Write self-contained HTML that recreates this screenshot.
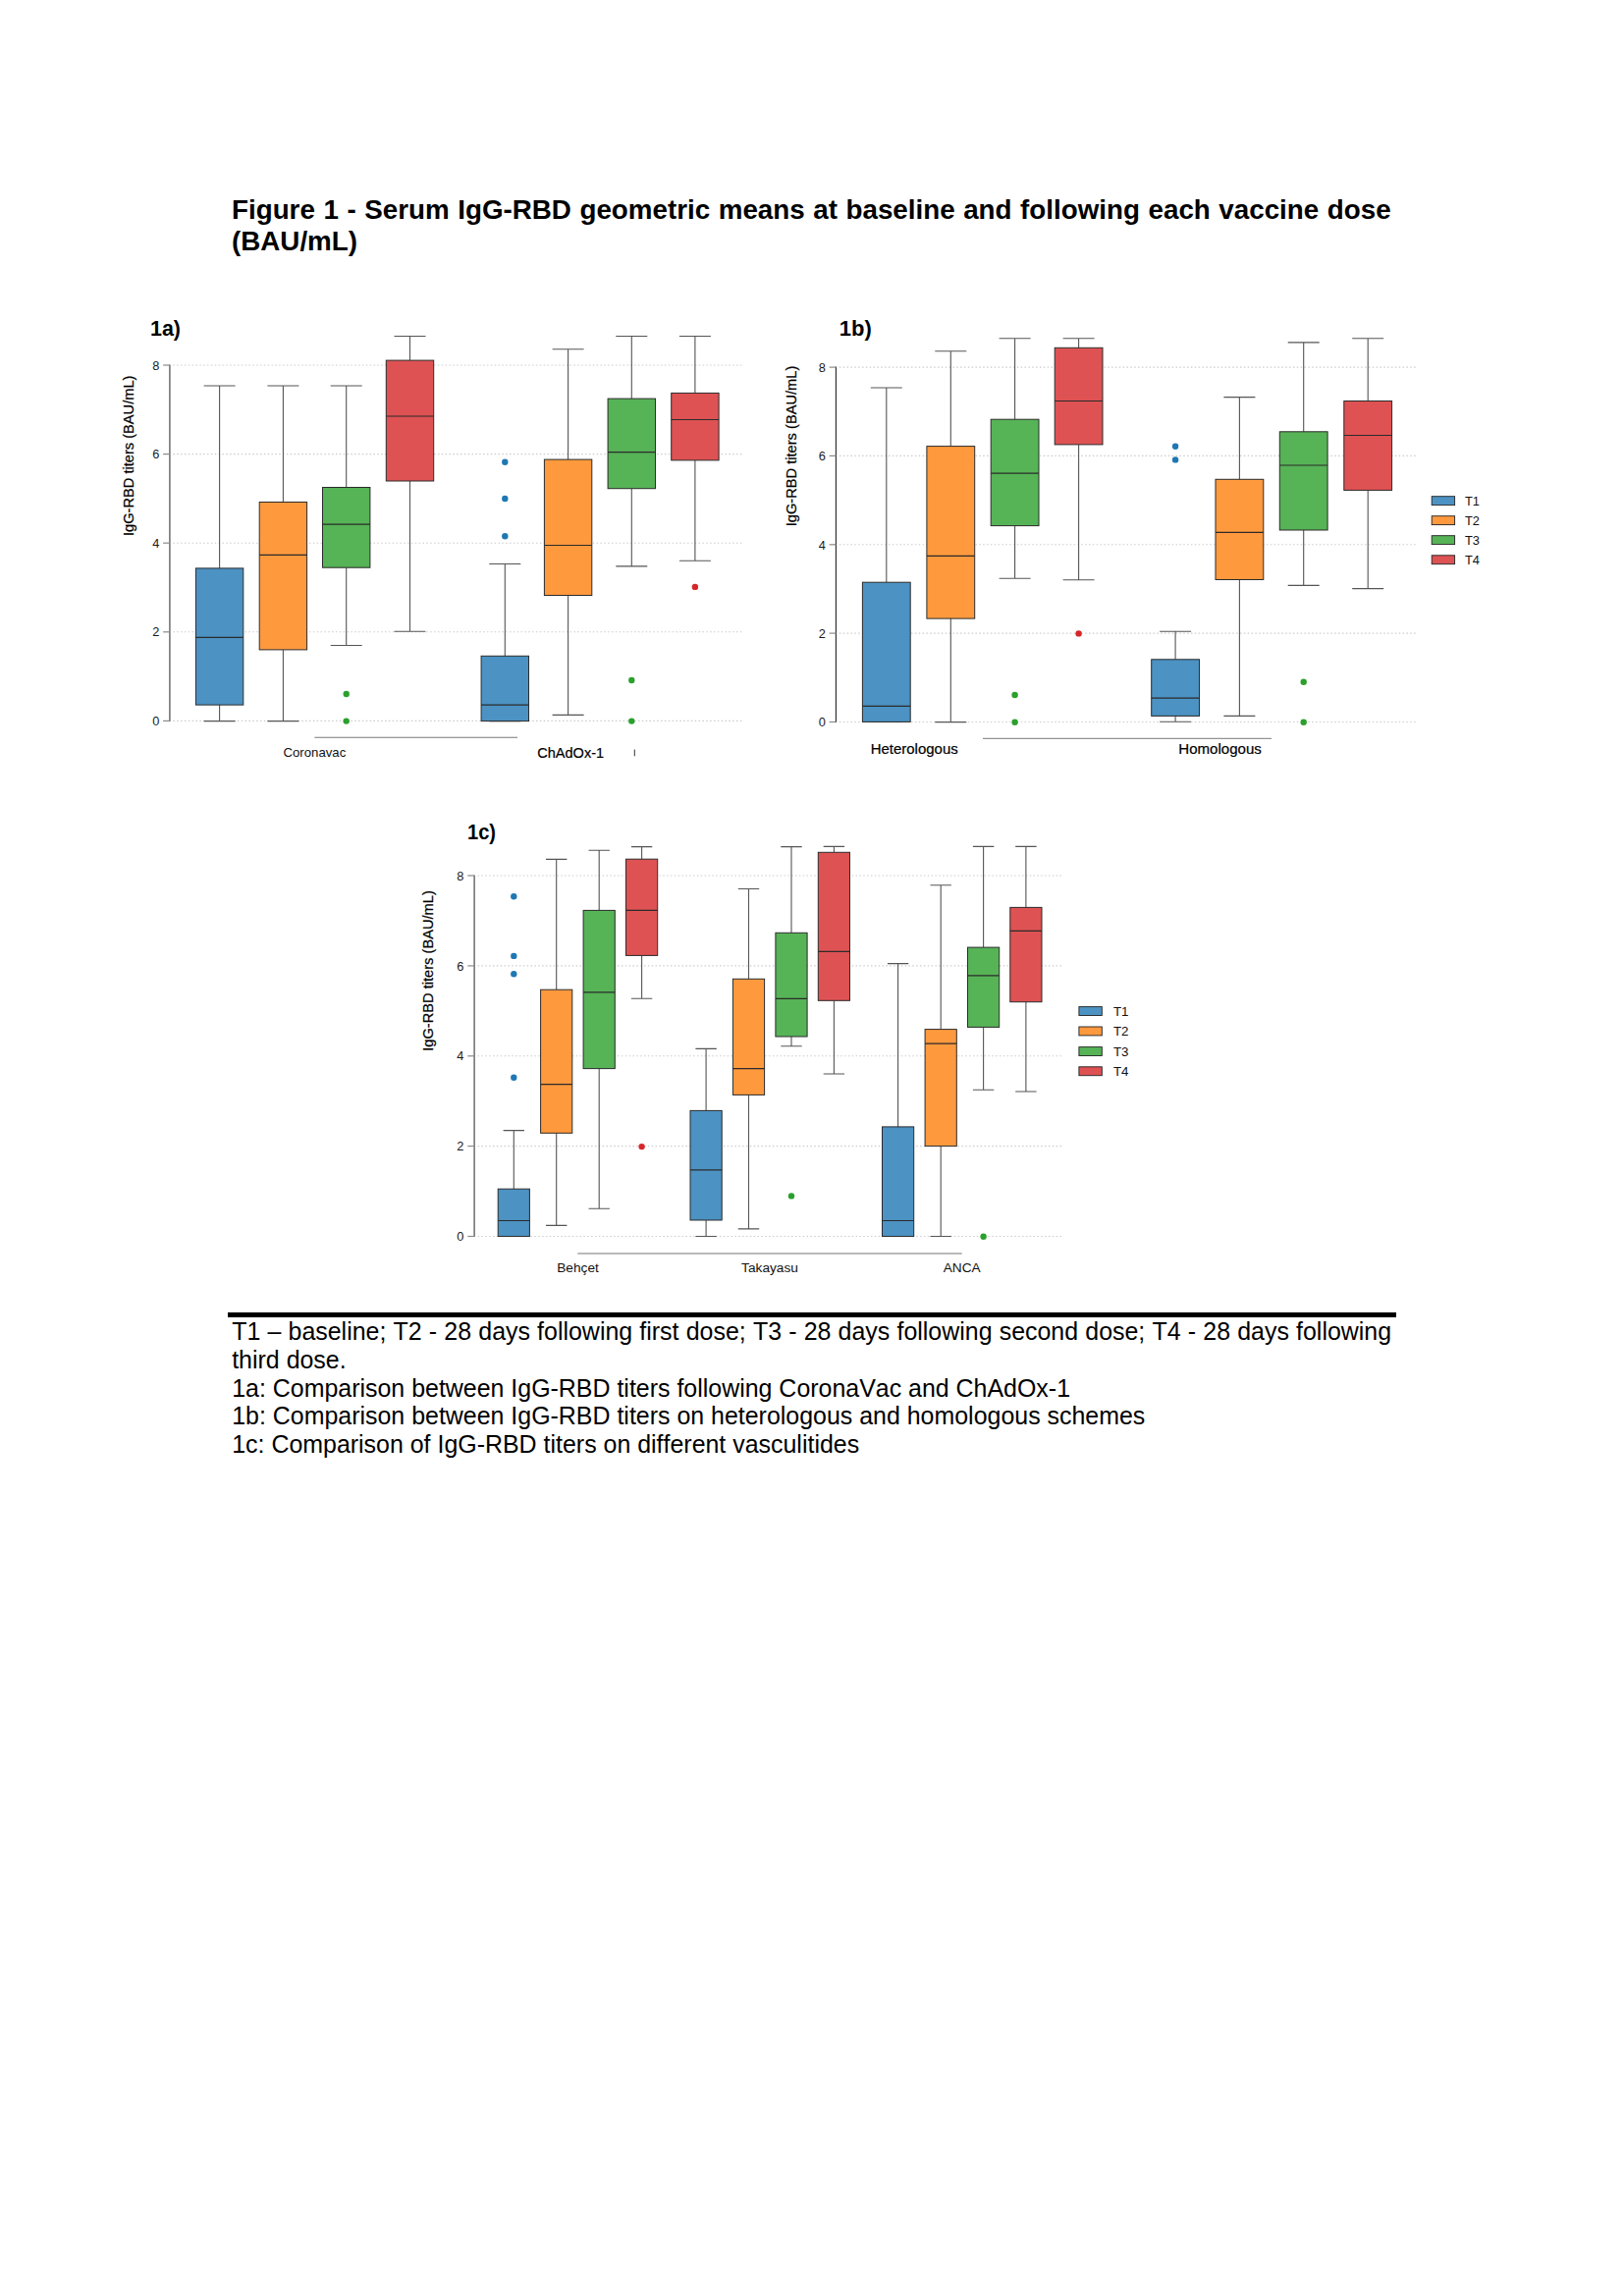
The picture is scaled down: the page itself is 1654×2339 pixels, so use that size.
<!DOCTYPE html>
<html lang="en"><head><meta charset="utf-8"><title>Figure 1</title>
<style>
html,body{margin:0;padding:0;background:#fff;}
body{width:1654px;height:2339px;position:relative;overflow:hidden;font-family:"Liberation Sans",Arial,sans-serif;color:#000;}
.title{position:absolute;left:236px;top:198.4px;width:1300px;font-weight:bold;font-size:27.78px;line-height:31.8px;white-space:nowrap;}
.title span{word-spacing:0.85px;}
.rule{position:absolute;left:232.1px;top:1337.3px;width:1189.6px;height:4.4px;background:#000;}
.cap{position:absolute;left:236.2px;top:1342px;font-kerning:none;font-size:24.95px;line-height:28.76px;white-space:nowrap;}
.cap span{word-spacing:0.26px;}
svg{position:absolute;left:0;top:0;font-family:"Liberation Sans",Arial,sans-serif;}
</style></head><body>
<div class="title"><span>Figure 1 - Serum IgG-RBD geometric means at baseline and following each vaccine dose</span><br>(BAU/mL)</div>
<svg width="1654" height="2339" viewBox="0 0 1654 2339">
<path d="M176.4 372.0H756.2" stroke="#cccccc" stroke-width="1.1" stroke-dasharray="1.5 2.35" fill="none"/>
<path d="M176.4 462.6H756.2" stroke="#cccccc" stroke-width="1.1" stroke-dasharray="1.5 2.35" fill="none"/>
<path d="M176.4 553.2H756.2" stroke="#cccccc" stroke-width="1.1" stroke-dasharray="1.5 2.35" fill="none"/>
<path d="M176.4 643.8H756.2" stroke="#cccccc" stroke-width="1.1" stroke-dasharray="1.5 2.35" fill="none"/>
<path d="M176.4 734.4H756.2" stroke="#cccccc" stroke-width="1.1" stroke-dasharray="1.5 2.35" fill="none"/>
<path d="M172.9 371.4V735.0" stroke="#5c5c5c" stroke-width="1.35"/>
<path d="M166.1 372.0H172.9" stroke="#8a8a8a" stroke-width="1.2"/>
<text x="162.3" y="377" text-anchor="end" font-size="12.8" fill="#1a1a1a">8</text>
<path d="M166.1 462.6H172.9" stroke="#8a8a8a" stroke-width="1.2"/>
<text x="162.3" y="467" text-anchor="end" font-size="12.8" fill="#1a1a1a">6</text>
<path d="M166.1 553.2H172.9" stroke="#8a8a8a" stroke-width="1.2"/>
<text x="162.3" y="558" text-anchor="end" font-size="12.8" fill="#1a1a1a">4</text>
<path d="M166.1 643.8H172.9" stroke="#8a8a8a" stroke-width="1.2"/>
<text x="162.3" y="648" text-anchor="end" font-size="12.8" fill="#1a1a1a">2</text>
<path d="M166.1 734.4H172.9" stroke="#8a8a8a" stroke-width="1.2"/>
<text x="162.3" y="739" text-anchor="end" font-size="12.8" fill="#1a1a1a">0</text>
<text transform="translate(135.7 464.3) rotate(-90)" text-anchor="middle" font-size="14.4" textLength="163.5" lengthAdjust="spacingAndGlyphs" fill="#000" stroke="#000" stroke-width="0.22">IgG-RBD titers (BAU/mL)</text>
<path d="M223.6 393.0V578.9M223.6 718.1V734.6M207.6 393.0H239.6M207.6 734.6H239.6" stroke="#555" stroke-width="1.1" fill="none"/>
<rect x="199.4" y="578.9" width="48.4" height="139.2" fill="#4c92c3" stroke="#2b2b2b" stroke-width="1"/>
<path d="M199.4 649.4H247.8" stroke="#2b2b2b" stroke-width="1.2"/>
<path d="M288.4 393.0V511.5M288.4 661.9V734.6M272.4 393.0H304.4M272.4 734.6H304.4" stroke="#555" stroke-width="1.1" fill="none"/>
<rect x="264.2" y="511.5" width="48.4" height="150.4" fill="#ff993e" stroke="#2b2b2b" stroke-width="1"/>
<path d="M264.2 565.4H312.6" stroke="#2b2b2b" stroke-width="1.2"/>
<path d="M352.7 393.0V496.5M352.7 578.2V657.5M336.7 393.0H368.7M336.7 657.5H368.7" stroke="#555" stroke-width="1.1" fill="none"/>
<rect x="328.5" y="496.5" width="48.4" height="81.7" fill="#56b356" stroke="#2b2b2b" stroke-width="1"/>
<path d="M328.5 534.1H376.9" stroke="#2b2b2b" stroke-width="1.2"/>
<circle cx="352.7" cy="707.0" r="3.2" fill="#2ca02c"/>
<circle cx="352.7" cy="734.6" r="3.2" fill="#2ca02c"/>
<path d="M417.5 342.5V367.1M417.5 490.0V643.2M401.5 342.5H433.5M401.5 643.2H433.5" stroke="#555" stroke-width="1.1" fill="none"/>
<rect x="393.3" y="367.1" width="48.4" height="122.9" fill="#de5253" stroke="#2b2b2b" stroke-width="1"/>
<path d="M393.3 424.0H441.7" stroke="#2b2b2b" stroke-width="1.2"/>
<path d="M514.3 574.5V668.3M514.3 734.6V734.6M498.3 574.5H530.3M498.3 734.6H530.3" stroke="#555" stroke-width="1.1" fill="none"/>
<rect x="490.1" y="668.3" width="48.4" height="66.3" fill="#4c92c3" stroke="#2b2b2b" stroke-width="1"/>
<path d="M490.1 718.1H538.5" stroke="#2b2b2b" stroke-width="1.2"/>
<circle cx="514.3" cy="470.8" r="3.2" fill="#1f77b4"/>
<circle cx="514.3" cy="508.0" r="3.2" fill="#1f77b4"/>
<circle cx="514.3" cy="546.2" r="3.2" fill="#1f77b4"/>
<path d="M578.6 355.8V468.1M578.6 606.5V728.4M562.6 355.8H594.6M562.6 728.4H594.6" stroke="#555" stroke-width="1.1" fill="none"/>
<rect x="554.4" y="468.1" width="48.4" height="138.4" fill="#ff993e" stroke="#2b2b2b" stroke-width="1"/>
<path d="M554.4 555.5H602.8" stroke="#2b2b2b" stroke-width="1.2"/>
<path d="M643.3 342.5V406.1M643.3 497.7V576.9M627.3 342.5H659.3M627.3 576.9H659.3" stroke="#555" stroke-width="1.1" fill="none"/>
<rect x="619.1" y="406.1" width="48.4" height="91.6" fill="#56b356" stroke="#2b2b2b" stroke-width="1"/>
<path d="M619.1 460.7H667.5" stroke="#2b2b2b" stroke-width="1.2"/>
<circle cx="643.3" cy="693.0" r="3.2" fill="#2ca02c"/>
<circle cx="643.3" cy="734.6" r="3.2" fill="#2ca02c"/>
<path d="M707.9 342.5V400.4M707.9 468.9V571.3M691.9 342.5H723.9M691.9 571.3H723.9" stroke="#555" stroke-width="1.1" fill="none"/>
<rect x="683.7" y="400.4" width="48.4" height="68.5" fill="#de5253" stroke="#2b2b2b" stroke-width="1"/>
<path d="M683.7 427.5H732.1" stroke="#2b2b2b" stroke-width="1.2"/>
<circle cx="707.9" cy="597.9" r="3.2" fill="#d62728"/>
<path d="M320.4 751.3H527" stroke="#777" stroke-width="1.1"/>
<text x="320.4" y="770.5" text-anchor="middle" font-size="13.2" fill="#111">Coronavac</text>
<text x="581.2" y="771.6" text-anchor="middle" font-size="14.7" textLength="67.8" lengthAdjust="spacingAndGlyphs" fill="#000" stroke="#000" stroke-width="0.2">ChAdOx-1</text>
<path d="M646.3 763.6V770.3" stroke="#333" stroke-width="1"/>
<text x="153" y="341.5" font-size="22.3" font-weight="bold" textLength="31" lengthAdjust="spacingAndGlyphs" fill="#000">1a)</text>
<path d="M854.9 374.1H1442.5" stroke="#cccccc" stroke-width="1.1" stroke-dasharray="1.5 2.35" fill="none"/>
<path d="M854.9 464.4H1442.5" stroke="#cccccc" stroke-width="1.1" stroke-dasharray="1.5 2.35" fill="none"/>
<path d="M854.9 554.8H1442.5" stroke="#cccccc" stroke-width="1.1" stroke-dasharray="1.5 2.35" fill="none"/>
<path d="M854.9 645.1H1442.5" stroke="#cccccc" stroke-width="1.1" stroke-dasharray="1.5 2.35" fill="none"/>
<path d="M854.9 735.5H1442.5" stroke="#cccccc" stroke-width="1.1" stroke-dasharray="1.5 2.35" fill="none"/>
<path d="M851.4 373.5V736.1" stroke="#222" stroke-width="1.1"/>
<path d="M844.6 374.1H851.4" stroke="#8a8a8a" stroke-width="1.2"/>
<text x="840.8" y="379" text-anchor="end" font-size="12.8" fill="#1a1a1a">8</text>
<path d="M844.6 464.4H851.4" stroke="#8a8a8a" stroke-width="1.2"/>
<text x="840.8" y="469" text-anchor="end" font-size="12.8" fill="#1a1a1a">6</text>
<path d="M844.6 554.8H851.4" stroke="#8a8a8a" stroke-width="1.2"/>
<text x="840.8" y="560" text-anchor="end" font-size="12.8" fill="#1a1a1a">4</text>
<path d="M844.6 645.1H851.4" stroke="#8a8a8a" stroke-width="1.2"/>
<text x="840.8" y="650" text-anchor="end" font-size="12.8" fill="#1a1a1a">2</text>
<path d="M844.6 735.5H851.4" stroke="#8a8a8a" stroke-width="1.2"/>
<text x="840.8" y="740" text-anchor="end" font-size="12.8" fill="#1a1a1a">0</text>
<text transform="translate(811.3 454.5) rotate(-90)" text-anchor="middle" font-size="14.4" textLength="163.5" lengthAdjust="spacingAndGlyphs" fill="#000" stroke="#000" stroke-width="0.22">IgG-RBD titers (BAU/mL)</text>
<path d="M902.8 395.0V593.2M902.8 735.4V735.4M886.8 395.0H918.8M886.8 735.4H918.8" stroke="#555" stroke-width="1.1" fill="none"/>
<rect x="878.4" y="593.2" width="48.8" height="142.2" fill="#4c92c3" stroke="#2b2b2b" stroke-width="1"/>
<path d="M878.4 719.3H927.2" stroke="#2b2b2b" stroke-width="1.2"/>
<path d="M968.3 357.8V454.6M968.3 630.1V735.6M952.3 357.8H984.3M952.3 735.6H984.3" stroke="#555" stroke-width="1.1" fill="none"/>
<rect x="943.9" y="454.6" width="48.8" height="175.5" fill="#ff993e" stroke="#2b2b2b" stroke-width="1"/>
<path d="M943.9 566.4H992.7" stroke="#2b2b2b" stroke-width="1.2"/>
<path d="M1033.6 344.7V427.2M1033.6 535.6V589.3M1017.6 344.7H1049.6M1017.6 589.3H1049.6" stroke="#555" stroke-width="1.1" fill="none"/>
<rect x="1009.2" y="427.2" width="48.8" height="108.4" fill="#56b356" stroke="#2b2b2b" stroke-width="1"/>
<path d="M1009.2 482.2H1058.0" stroke="#2b2b2b" stroke-width="1.2"/>
<circle cx="1033.6" cy="708.0" r="3.2" fill="#2ca02c"/>
<circle cx="1033.6" cy="735.8" r="3.2" fill="#2ca02c"/>
<path d="M1098.6 344.7V354.3M1098.6 452.9V590.7M1082.6 344.7H1114.6M1082.6 590.7H1114.6" stroke="#555" stroke-width="1.1" fill="none"/>
<rect x="1074.2" y="354.3" width="48.8" height="98.6" fill="#de5253" stroke="#2b2b2b" stroke-width="1"/>
<path d="M1074.2 408.5H1123.0" stroke="#2b2b2b" stroke-width="1.2"/>
<circle cx="1098.6" cy="645.4" r="3.2" fill="#d62728"/>
<path d="M1197.1 643.2V671.8M1197.1 729.4V735.3M1181.1 643.2H1213.1M1181.1 735.3H1213.1" stroke="#555" stroke-width="1.1" fill="none"/>
<rect x="1172.7" y="671.8" width="48.8" height="57.6" fill="#4c92c3" stroke="#2b2b2b" stroke-width="1"/>
<path d="M1172.7 711.2H1221.5" stroke="#2b2b2b" stroke-width="1.2"/>
<circle cx="1197.1" cy="454.8" r="3.2" fill="#1f77b4"/>
<circle cx="1197.1" cy="468.4" r="3.2" fill="#1f77b4"/>
<path d="M1262.4 404.6V488.3M1262.4 590.5V729.4M1246.4 404.6H1278.4M1246.4 729.4H1278.4" stroke="#555" stroke-width="1.1" fill="none"/>
<rect x="1238.0" y="488.3" width="48.8" height="102.2" fill="#ff993e" stroke="#2b2b2b" stroke-width="1"/>
<path d="M1238.0 542.4H1286.8" stroke="#2b2b2b" stroke-width="1.2"/>
<path d="M1327.7 348.9V439.8M1327.7 540.0V596.4M1311.7 348.9H1343.7M1311.7 596.4H1343.7" stroke="#555" stroke-width="1.1" fill="none"/>
<rect x="1303.3" y="439.8" width="48.8" height="100.2" fill="#56b356" stroke="#2b2b2b" stroke-width="1"/>
<path d="M1303.3 474.0H1352.1" stroke="#2b2b2b" stroke-width="1.2"/>
<circle cx="1327.7" cy="694.7" r="3.2" fill="#2ca02c"/>
<circle cx="1327.7" cy="735.8" r="3.2" fill="#2ca02c"/>
<path d="M1393.2 344.7V408.5M1393.2 499.4V599.6M1377.2 344.7H1409.2M1377.2 599.6H1409.2" stroke="#555" stroke-width="1.1" fill="none"/>
<rect x="1368.8" y="408.5" width="48.8" height="90.9" fill="#de5253" stroke="#2b2b2b" stroke-width="1"/>
<path d="M1368.8 443.5H1417.6" stroke="#2b2b2b" stroke-width="1.2"/>
<path d="M1001 752.3H1295" stroke="#7a7a7a" stroke-width="1"/>
<text x="931.2" y="768" text-anchor="middle" font-size="14.7" textLength="89" lengthAdjust="spacingAndGlyphs" fill="#000" stroke="#000" stroke-width="0.2">Heterologous</text>
<text x="1242.6" y="768" text-anchor="middle" font-size="14.7" textLength="84.5" lengthAdjust="spacingAndGlyphs" fill="#000" stroke="#000" stroke-width="0.2">Homologous</text>
<text x="854.8" y="341.5" font-size="22.3" font-weight="bold" textLength="33" lengthAdjust="spacingAndGlyphs" fill="#000">1b)</text>
<rect x="1458.2" y="505.7" width="23.4" height="8.9" fill="#4c92c3" stroke="#222" stroke-width="0.9"/>
<text x="1492.0" y="514.7" font-size="12.8" fill="#111">T1</text>
<rect x="1458.2" y="525.7" width="23.4" height="8.9" fill="#ff993e" stroke="#222" stroke-width="0.9"/>
<text x="1492.0" y="534.7" font-size="12.8" fill="#111">T2</text>
<rect x="1458.2" y="545.7" width="23.4" height="8.9" fill="#56b356" stroke="#222" stroke-width="0.9"/>
<text x="1492.0" y="554.7" font-size="12.8" fill="#111">T3</text>
<rect x="1458.2" y="565.8" width="23.4" height="8.9" fill="#de5253" stroke="#222" stroke-width="0.9"/>
<text x="1492.0" y="574.8" font-size="12.8" fill="#111">T4</text>
<path d="M486.6 892.0H1082.6" stroke="#cccccc" stroke-width="1.1" stroke-dasharray="1.5 2.35" fill="none"/>
<path d="M486.6 983.9H1082.6" stroke="#cccccc" stroke-width="1.1" stroke-dasharray="1.5 2.35" fill="none"/>
<path d="M486.6 1075.8H1082.6" stroke="#cccccc" stroke-width="1.1" stroke-dasharray="1.5 2.35" fill="none"/>
<path d="M486.6 1167.6H1082.6" stroke="#cccccc" stroke-width="1.1" stroke-dasharray="1.5 2.35" fill="none"/>
<path d="M486.6 1259.5H1082.6" stroke="#cccccc" stroke-width="1.1" stroke-dasharray="1.5 2.35" fill="none"/>
<path d="M483.1 891.4V1260.1" stroke="#5c5c5c" stroke-width="1.35"/>
<path d="M476.3 892.0H483.1" stroke="#8a8a8a" stroke-width="1.2"/>
<text x="472.3" y="897" text-anchor="end" font-size="12.8" fill="#1a1a1a">8</text>
<path d="M476.3 983.9H483.1" stroke="#8a8a8a" stroke-width="1.2"/>
<text x="472.3" y="989" text-anchor="end" font-size="12.8" fill="#1a1a1a">6</text>
<path d="M476.3 1075.8H483.1" stroke="#8a8a8a" stroke-width="1.2"/>
<text x="472.3" y="1080" text-anchor="end" font-size="12.8" fill="#1a1a1a">4</text>
<path d="M476.3 1167.6H483.1" stroke="#8a8a8a" stroke-width="1.2"/>
<text x="472.3" y="1172" text-anchor="end" font-size="12.8" fill="#1a1a1a">2</text>
<path d="M476.3 1259.5H483.1" stroke="#8a8a8a" stroke-width="1.2"/>
<text x="472.3" y="1264" text-anchor="end" font-size="12.8" fill="#1a1a1a">0</text>
<text transform="translate(440.8 989.0) rotate(-90)" text-anchor="middle" font-size="14.4" textLength="163.5" lengthAdjust="spacingAndGlyphs" fill="#000" stroke="#000" stroke-width="0.22">IgG-RBD titers (BAU/mL)</text>
<path d="M523.3 1151.6V1211.2M523.3 1259.5V1259.5M512.6 1151.6H534.0M512.6 1259.5H534.0" stroke="#555" stroke-width="1.1" fill="none"/>
<rect x="507.2" y="1211.2" width="32.2" height="48.3" fill="#4c92c3" stroke="#2b2b2b" stroke-width="1"/>
<path d="M507.2 1243.5H539.4" stroke="#2b2b2b" stroke-width="1.2"/>
<circle cx="523.3" cy="913.3" r="3.2" fill="#1f77b4"/>
<circle cx="523.3" cy="973.9" r="3.2" fill="#1f77b4"/>
<circle cx="523.3" cy="992.2" r="3.2" fill="#1f77b4"/>
<circle cx="523.3" cy="1097.7" r="3.2" fill="#1f77b4"/>
<path d="M566.7 875.4V1008.2M566.7 1154.3V1248.4M556.0 875.4H577.4M556.0 1248.4H577.4" stroke="#555" stroke-width="1.1" fill="none"/>
<rect x="550.6" y="1008.2" width="32.2" height="146.1" fill="#ff993e" stroke="#2b2b2b" stroke-width="1"/>
<path d="M550.6 1104.6H582.8" stroke="#2b2b2b" stroke-width="1.2"/>
<path d="M610.2 866.3V927.4M610.2 1088.6V1231.2M599.5 866.3H620.9M599.5 1231.2H620.9" stroke="#555" stroke-width="1.1" fill="none"/>
<rect x="594.1" y="927.4" width="32.2" height="161.2" fill="#56b356" stroke="#2b2b2b" stroke-width="1"/>
<path d="M594.1 1010.9H626.3" stroke="#2b2b2b" stroke-width="1.2"/>
<path d="M653.6 862.6V875.2M653.6 973.4V1017.3M642.9 862.6H664.3M642.9 1017.3H664.3" stroke="#555" stroke-width="1.1" fill="none"/>
<rect x="637.5" y="875.2" width="32.2" height="98.2" fill="#de5253" stroke="#2b2b2b" stroke-width="1"/>
<path d="M637.5 927.4H669.7" stroke="#2b2b2b" stroke-width="1.2"/>
<circle cx="653.6" cy="1168.1" r="3.2" fill="#d62728"/>
<path d="M719.1 1068.4V1131.4M719.1 1243.0V1259.5M708.4 1068.4H729.8M708.4 1259.5H729.8" stroke="#555" stroke-width="1.1" fill="none"/>
<rect x="703.0" y="1131.4" width="32.2" height="111.6" fill="#4c92c3" stroke="#2b2b2b" stroke-width="1"/>
<path d="M703.0 1191.8H735.2" stroke="#2b2b2b" stroke-width="1.2"/>
<path d="M762.5 905.5V997.3M762.5 1115.4V1251.9M751.8 905.5H773.2M751.8 1251.9H773.2" stroke="#555" stroke-width="1.1" fill="none"/>
<rect x="746.4" y="997.3" width="32.2" height="118.1" fill="#ff993e" stroke="#2b2b2b" stroke-width="1"/>
<path d="M746.4 1088.6H778.6" stroke="#2b2b2b" stroke-width="1.2"/>
<path d="M806.0 862.6V950.3M806.0 1056.0V1065.8M795.3 862.6H816.7M795.3 1065.8H816.7" stroke="#555" stroke-width="1.1" fill="none"/>
<rect x="789.9" y="950.3" width="32.2" height="105.7" fill="#56b356" stroke="#2b2b2b" stroke-width="1"/>
<path d="M789.9 1017.3H822.1" stroke="#2b2b2b" stroke-width="1.2"/>
<circle cx="806.0" cy="1218.4" r="3.2" fill="#2ca02c"/>
<path d="M849.4 862.4V868.3M849.4 1019.3V1094.0M838.7 862.4H860.1M838.7 1094.0H860.1" stroke="#555" stroke-width="1.1" fill="none"/>
<rect x="833.3" y="868.3" width="32.2" height="151.0" fill="#de5253" stroke="#2b2b2b" stroke-width="1"/>
<path d="M833.3 969.3H865.5" stroke="#2b2b2b" stroke-width="1.2"/>
<path d="M914.6 981.6V1147.9M914.6 1259.5V1259.5M903.9 981.6H925.3M903.9 1259.5H925.3" stroke="#555" stroke-width="1.1" fill="none"/>
<rect x="898.5" y="1147.9" width="32.2" height="111.6" fill="#4c92c3" stroke="#2b2b2b" stroke-width="1"/>
<path d="M898.5 1243.5H930.7" stroke="#2b2b2b" stroke-width="1.2"/>
<path d="M958.2 901.8V1048.6M958.2 1167.6V1259.5M947.5 901.8H968.9M947.5 1259.5H968.9" stroke="#555" stroke-width="1.1" fill="none"/>
<rect x="942.1" y="1048.6" width="32.2" height="119.0" fill="#ff993e" stroke="#2b2b2b" stroke-width="1"/>
<path d="M942.1 1063.1H974.3" stroke="#2b2b2b" stroke-width="1.2"/>
<path d="M1001.6 862.4V965.1M1001.6 1046.4V1110.2M990.9 862.4H1012.3M990.9 1110.2H1012.3" stroke="#555" stroke-width="1.1" fill="none"/>
<rect x="985.5" y="965.1" width="32.2" height="81.3" fill="#56b356" stroke="#2b2b2b" stroke-width="1"/>
<path d="M985.5 993.9H1017.7" stroke="#2b2b2b" stroke-width="1.2"/>
<circle cx="1001.6" cy="1259.8" r="3.2" fill="#2ca02c"/>
<path d="M1044.9 862.4V924.4M1044.9 1020.7V1112.0M1034.2 862.4H1055.6M1034.2 1112.0H1055.6" stroke="#555" stroke-width="1.1" fill="none"/>
<rect x="1028.8" y="924.4" width="32.2" height="96.3" fill="#de5253" stroke="#2b2b2b" stroke-width="1"/>
<path d="M1028.8 948.3H1061.0" stroke="#2b2b2b" stroke-width="1.2"/>
<path d="M588.3 1277H979.7" stroke="#777" stroke-width="1.1"/>
<text x="588.5" y="1296.3" text-anchor="middle" font-size="13.7" fill="#111">Behçet</text>
<text x="784" y="1296.3" text-anchor="middle" font-size="13.7" fill="#111">Takayasu</text>
<text x="979.7" y="1296.3" text-anchor="middle" font-size="13.7" fill="#111">ANCA</text>
<text x="476" y="855.2" font-size="22.3" font-weight="bold" textLength="29" lengthAdjust="spacingAndGlyphs" fill="#000">1c)</text>
<rect x="1098.9" y="1025.6" width="23.4" height="8.9" fill="#4c92c3" stroke="#222" stroke-width="0.9"/>
<text x="1133.9" y="1034.6" font-size="13.3" fill="#111">T1</text>
<rect x="1098.9" y="1046.0" width="23.4" height="8.9" fill="#ff993e" stroke="#222" stroke-width="0.9"/>
<text x="1133.9" y="1055.0" font-size="13.3" fill="#111">T2</text>
<rect x="1098.9" y="1066.6" width="23.4" height="8.9" fill="#56b356" stroke="#222" stroke-width="0.9"/>
<text x="1133.9" y="1075.6" font-size="13.3" fill="#111">T3</text>
<rect x="1098.9" y="1086.8" width="23.4" height="8.9" fill="#de5253" stroke="#222" stroke-width="0.9"/>
<text x="1133.9" y="1095.8" font-size="13.3" fill="#111">T4</text>
</svg>
<div class="rule"></div>
<div class="cap"><span>T1 – baseline; T2 - 28 days following first dose; T3 - 28 days following second dose; T4 - 28 days following</span><br>third dose.<br>1a: Comparison between IgG-RBD titers following CoronaVac and ChAdOx-1<br>1b: Comparison between IgG-RBD titers on heterologous and homologous schemes<br>1c: Comparison of IgG-RBD titers on different vasculitides</div>
</body></html>
